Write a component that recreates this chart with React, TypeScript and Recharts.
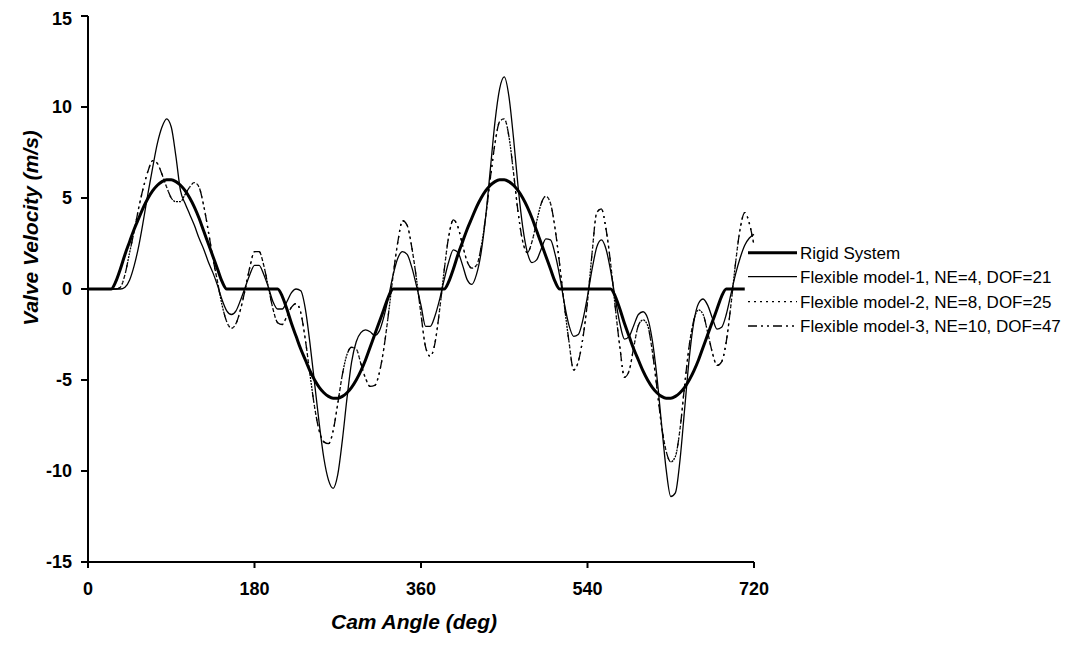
import { LineChart, Line, XAxis, YAxis } from 'recharts'

// cam angle grid, every 5 deg from 0 to 720
const angles = Array.from({ length: 145 }, (_, i) => i * 5)

const rigid = [
  0, 0, 0, 0, 0, 0, 0.4, 1.1, 1.9, 2.6, 3.3, 3.9,
  4.5, 5.0, 5.4, 5.7, 5.9, 6.0, 6.0, 5.9, 5.7, 5.4, 5.0, 4.5,
  3.9, 3.2, 2.5, 1.8, 1.1, 0.4, 0, 0, 0, 0, 0, 0,
  0, 0, 0, 0, 0, 0, -0.4, -1.1, -1.9, -2.6, -3.3, -3.9,
  -4.5, -5.0, -5.4, -5.7, -5.9, -6.0, -6.0, -5.9, -5.7, -5.4, -5.0, -4.5,
  -3.9, -3.2, -2.5, -1.8, -1.1, -0.4, 0, 0, 0, 0, 0, 0,
  0, 0, 0, 0, 0, 0, 0.4, 1.1, 1.9, 2.6, 3.3, 3.9,
  4.5, 5.0, 5.4, 5.7, 5.9, 6.0, 6.0, 5.9, 5.7, 5.4, 5.0, 4.5,
  3.9, 3.2, 2.5, 1.8, 1.1, 0.4, 0, 0, 0, 0, 0, 0,
  0, 0, 0, 0, 0, 0, -0.4, -1.1, -1.9, -2.6, -3.3, -3.9,
  -4.5, -5.0, -5.4, -5.7, -5.9, -6.0, -6.0, -5.9, -5.7, -5.4, -5.0, -4.5,
  -3.9, -3.2, -2.5, -1.8, -1.1, -0.4, 0, 0, 0, 0, 0, null,
  null,
]

// Flexible model-1, NE=4, DOF=21
const flex1 = [
  0, 0, 0, 0, 0, 0, 0, 0, 0.1, 0.5, 1.3, 2.4,
  3.8, 5.3, 6.7, 8.0, 8.9, 9.35, 8.9, 7.3, 5.4, 4.7, 4.1, 3.5,
  2.8, 2.2, 1.5, 0.9, 0.2, -0.6, -1.2, -1.4, -1.2, -0.6, 0.1, 0.8,
  1.3, 1.3, 0.8, 0.1, -0.7, -1.1, -1.1, -0.7, -0.2, 0.0, -0.1, -1.1,
  -3.0, -5.2, -7.4, -9.3, -10.5, -10.95, -10.2, -8.3, -6.0, -4.0, -2.9, -2.4,
  -2.25, -2.35, -2.55, -2.3, -1.5, -0.4, 0.8, 1.7, 2.05, 1.9, 1.2, 0.2,
  -0.9, -2.05, -2.05, -1.5, -0.6, 0.5, 1.5, 2.15, 2.0, 1.3, 0.5, 0.25,
  0.8, 2.0, 4.0, 6.6, 9.2, 11.0, 11.65, 10.6, 8.3, 5.6, 3.4, 2.0,
  1.45, 1.6, 2.2, 2.75, 2.7, 1.9, 0.7, -0.8, -2.0, -2.6, -2.5, -1.7,
  -0.4, 1.1, 2.3, 2.7, 2.2, 1.0, -0.5, -1.9, -2.75, -2.6, -2.0, -1.4,
  -1.25, -1.6, -2.8, -4.8, -7.4, -9.9, -11.4, -11.2, -9.4, -6.6, -3.8, -1.8,
  -0.8, -0.55, -0.9, -1.6, -2.2, -2.1, -1.4, -0.3, 0.8, 1.7, 2.4, 2.8,
  3.0,
]

// Flexible model-2, NE=8, DOF=25
const flex2 = [
  0, 0, 0, 0, 0, 0, 0, 0.1, 0.8, 2.0, 3.2, 4.5,
  5.6, 6.5, 7.05, 6.9, 6.3, 5.6, 5.0, 4.8, 4.8, 5.2, 5.6, 5.85,
  5.6, 4.6, 3.2, 1.7, 0.4, -0.9, -1.8, -2.15, -1.9, -1.1, 0.0, 1.2,
  2.05, 2.05, 1.3, 0.1, -1.1, -1.85, -1.95, -1.5, -1.0, -0.8, -1.3, -2.8,
  -4.7, -6.5, -7.8, -8.4, -8.5, -7.8, -6.3, -4.7, -3.6, -3.2, -3.3, -4.1,
  -4.9, -5.35, -5.3, -4.6, -3.2, -1.3, 0.8, 2.6, 3.75, 3.5, 2.3, 0.6,
  -1.4, -3.2, -3.7, -3.0, -1.2, 1.0, 2.9, 3.8, 3.4, 2.4, 1.5, 1.15,
  1.3, 2.3, 4.0, 6.1, 8.0, 9.2, 9.35, 8.4, 6.4, 4.2, 2.6, 2.0,
  2.6, 3.7, 4.7, 5.1, 4.7, 3.3, 1.3, -0.9, -2.9, -4.45, -4.0, -2.7,
  -0.7, 2.0, 4.2, 4.4, 3.3, 1.4, -1.0, -3.2, -4.85, -4.5, -3.2, -2.0,
  -1.7, -2.0, -3.4, -5.4, -7.5, -8.9, -9.5, -9.2, -7.7, -5.3, -3.1, -1.7,
  -1.15, -1.4, -2.4, -3.5, -4.2, -4.0, -2.9, -0.9, 1.4, 3.3, 4.2, 3.6,
  2.4,
]

// Flexible model-3, NE=10, DOF=47 (lies almost on top of model-2)
const flex3 = [
  0, 0, 0, 0, 0, 0, 0, 0.1, 0.8, 2.0, 3.2, 4.5,
  5.6, 6.5, 7.05, 6.9, 6.3, 5.6, 5.0, 4.8, 4.8, 5.2, 5.6, 5.85,
  5.6, 4.6, 3.2, 1.7, 0.4, -0.9, -1.8, -2.15, -1.9, -1.1, 0.0, 1.2,
  2.05, 2.05, 1.3, 0.1, -1.1, -1.85, -1.95, -1.5, -1.0, -0.8, -1.3, -2.8,
  -4.7, -6.5, -7.8, -8.4, -8.5, -7.8, -6.3, -4.7, -3.6, -3.2, -3.3, -4.1,
  -4.9, -5.35, -5.3, -4.6, -3.2, -1.3, 0.8, 2.6, 3.75, 3.5, 2.3, 0.6,
  -1.4, -3.2, -3.7, -3.0, -1.2, 1.0, 2.9, 3.8, 3.4, 2.4, 1.5, 1.15,
  1.3, 2.3, 4.0, 6.1, 8.0, 9.2, 9.35, 8.4, 6.4, 4.2, 2.6, 2.0,
  2.6, 3.7, 4.7, 5.1, 4.7, 3.3, 1.3, -0.9, -2.9, -4.45, -4.0, -2.7,
  -0.7, 2.0, 4.2, 4.4, 3.3, 1.4, -1.0, -3.2, -4.85, -4.5, -3.2, -2.0,
  -1.7, -2.0, -3.4, -5.4, -7.5, -8.9, -9.5, -9.2, -7.7, -5.3, -3.1, -1.7,
  -1.15, -1.4, -2.4, -3.5, -4.2, -4.0, -2.9, -0.9, 1.4, 3.3, 4.2, 3.6,
  2.4,
]

const xTicks = [0, 180, 360, 540, 720]
const yTicks = [-15, -10, -5, 0, 5, 10, 15]

const data = angles.map((a, i) => ({
  angle: a,
  rigid: rigid[i],
  flex1: flex1[i],
  flex2: flex2[i],
  flex3: flex3[i],
}))

const FONT = '"Liberation Sans", Arial, sans-serif'
const tickStyle = { fill: '#000', fontSize: 18, fontWeight: 'bold', fontFamily: FONT }

const legendItems = [
  { name: 'Rigid System', width: 3, dash: undefined },
  { name: 'Flexible model-1, NE=4, DOF=21', width: 1.3, dash: undefined },
  { name: 'Flexible model-2, NE=8, DOF=25', width: 1.3, dash: '2 4' },
  { name: 'Flexible model-3, NE=10, DOF=47', width: 1.3, dash: '9 4 2 4 2 4' },
]

const XTitle = () => (
  <text x={406} y={621} textAnchor="middle" fontSize={21} fontWeight="bold" fontStyle="italic" fontFamily={FONT} fill="#000">
    Cam Angle (deg)
  </text>
)

const YTitle = () => (
  <text transform="translate(23,220) rotate(-90)" textAnchor="middle" dy="0.35em" fontSize={21} fontWeight="bold" fontStyle="italic" fontFamily={FONT} fill="#000">
    Valve Velocity (m/s)
  </text>
)

export default function App() {
  return (
    <div style={{ position: 'relative', width: 1060, height: 630, fontFamily: FONT }}>
      <LineChart width={1060} height={630} data={data} margin={{ top: 8, right: 314, bottom: 36, left: 20 }}>
        <XAxis
          dataKey="angle"
          type="number"
          domain={[0, 720]}
          ticks={xTicks}
          height={40}
          axisLine={{ stroke: '#000', strokeWidth: 2 }}
          tickLine={{ stroke: '#000', strokeWidth: 2 }}
          tickSize={6}
          tickMargin={14}
          tick={tickStyle}
          label={<XTitle />}
        />
        <YAxis
          type="number"
          domain={[-15, 15]}
          ticks={yTicks}
          width={60}
          axisLine={{ stroke: '#000', strokeWidth: 2 }}
          tickLine={{ stroke: '#000', strokeWidth: 2 }}
          tickSize={7}
          tickMargin={9}
          tick={tickStyle}
          label={<YTitle />}
        />
        <Line type="monotone" dataKey="flex3" stroke="#000" strokeWidth={1.3} strokeDasharray="9 4 2 4 2 4" dot={false} isAnimationActive={false} />
        <Line type="monotone" dataKey="flex2" stroke="#000" strokeWidth={1.3} strokeDasharray="2 4" dot={false} isAnimationActive={false} />
        <Line type="monotone" dataKey="flex1" stroke="#000" strokeWidth={1.3} dot={false} isAnimationActive={false} />
        <Line type="monotone" dataKey="rigid" stroke="#000" strokeWidth={3} dot={false} isAnimationActive={false} />
      </LineChart>
      <svg style={{ position: 'absolute', left: 732, top: 232 }} width={330} height={110}>
        {legendItems.map((it, i) => {
          const y = [12.7, 36.7, 61.7, 86][i]
          return (
            <g key={it.name}>
              <line x1={8} x2={57} y1={y} y2={y} stroke="#000" strokeWidth={it.width} strokeDasharray={it.dash} />
              <text x={60} y={y} dy="0.35em" fontSize={17} fontFamily={FONT} fill="#000">
                {it.name}
              </text>
            </g>
          )
        })}
      </svg>
    </div>
  )
}
